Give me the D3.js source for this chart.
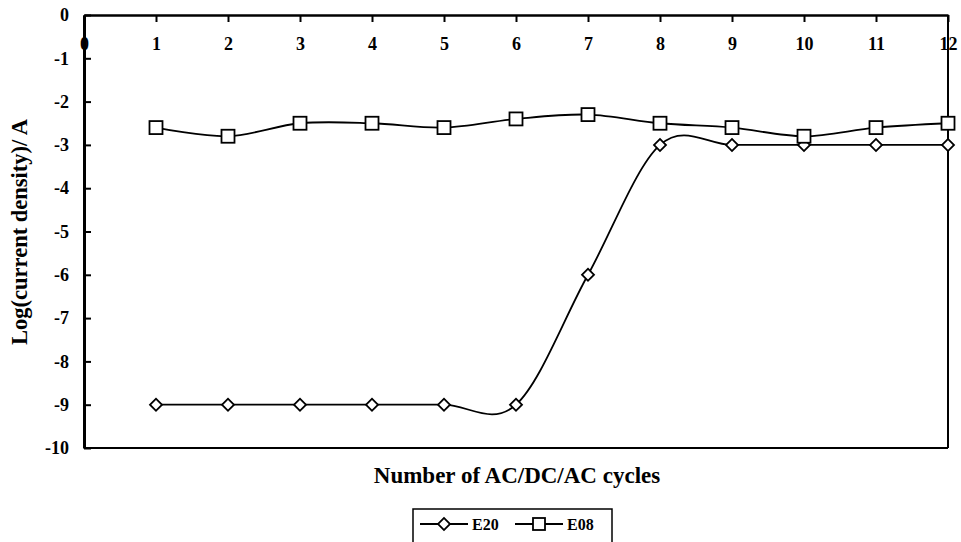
<!DOCTYPE html>
<html>
<head>
<meta charset="utf-8">
<script src="https://cdn.jsdelivr.net/npm/d3@7"></script>
<style>
  body { margin: 0; background: #fff; }
  text { font-family: "Liberation Serif", "Times New Roman", serif; font-weight: bold; }
</style>
</head>
<body>
<div class="chart"></div>
<script>
// data
const cycles = [1, 2, 3, 4, 5, 6, 7, 8, 9, 10, 11, 12]
const e20 = [-9, -9, -9, -9, -9, -9, -6, -3, -3, -3, -3, -3]
const e08 = [-2.6, -2.8, -2.5, -2.5, -2.6, -2.4, -2.3, -2.5, -2.6, -2.8, -2.6, -2.5]
const xTicks = [0, 1, 2, 3, 4, 5, 6, 7, 8, 9, 10, 11, 12]
const yTicks = [0, -1, -2, -3, -4, -5, -6, -7, -8, -9, -10]

const w = 961
const h = 542

const svg = d3.select(".chart")
  .append("svg")
    .attr("width", w)
    .attr("height", h)

const x = d3.scaleLinear().domain([0, 12]).range([84, 948])
const y = d3.scaleLinear().domain([-10, 0]).range([448, 15])

// plot frame: bottom and right
svg.append("line")
  .attr("x1", x(0)).attr("x2", x(12))
  .attr("y1", y(-10)).attr("y2", y(-10))
  .attr("stroke", "black").attr("stroke-width", 2)
svg.append("line")
  .attr("x1", x(12)).attr("x2", x(12))
  .attr("y1", y(0)).attr("y2", y(-10))
  .attr("stroke", "black").attr("stroke-width", 2)

// x axis sits at y = 0 (top), ticks pointing down, labels below
const xAxis = svg.append("g")
  .attr("transform", `translate(0,${y(0)})`)
  .call(d3.axisBottom(x).tickValues(xTicks).tickSize(7).tickSizeOuter(0).tickFormat(d => String(d)))
xAxis.select(".domain").attr("stroke-width", 2.5)
xAxis.selectAll(".tick line").attr("stroke-width", 2)
xAxis.selectAll(".tick text")
  .attr("y", 22)
  .attr("font-size", 18)
  .attr("font-family", "Liberation Serif")
  .attr("font-weight", "bold")
  .attr("fill", "black")

// y axis, ticks pointing inward
const yAxis = svg.append("g")
  .attr("transform", `translate(${x(0)},0)`)
  .call(d3.axisRight(y).tickValues(yTicks).tickSize(7).tickSizeOuter(0).tickFormat(d => String(d)))
yAxis.select(".domain").attr("stroke-width", 3)
yAxis.selectAll(".tick line").attr("stroke-width", 2)
yAxis.selectAll(".tick text")
  .attr("x", -15)
  .attr("text-anchor", "end")
  .attr("font-size", 18)
  .attr("font-family", "Liberation Serif")
  .attr("font-weight", "bold")
  .attr("fill", "black")

// smoothed lines like the spreadsheet
const line = d3.line()
  .x((d, i) => x(cycles[i]))
  .y(d => y(d))
  .curve(d3.curveCatmullRom.alpha(0))

svg.append("path").datum(e20)
  .attr("d", line).attr("fill", "none")
  .attr("stroke", "black").attr("stroke-width", 1.8)
svg.append("path").datum(e08)
  .attr("d", line).attr("fill", "none")
  .attr("stroke", "black").attr("stroke-width", 1.8)

const diamond = d3.symbol().type(d3.symbolSquare).size(72)

svg.append("g").selectAll("path")
  .data(e20)
  .join("path")
    .attr("d", diamond)
    .attr("transform", (d, i) => `translate(${x(cycles[i])},${y(d)}) rotate(45)`)
    .attr("fill", "white").attr("stroke", "black").attr("stroke-width", 1.8)

svg.append("g").selectAll("rect")
  .data(e08)
  .join("rect")
    .attr("x", (d, i) => x(cycles[i]) - 6.5)
    .attr("y", d => y(d) - 6.5)
    .attr("width", 13).attr("height", 13)
    .attr("fill", "white").attr("stroke", "black").attr("stroke-width", 1.8)

// axis titles
svg.append("text")
  .attr("x", 517).attr("y", 483)
  .attr("text-anchor", "middle")
  .attr("font-size", 23)
  .text("Number of AC/DC/AC cycles")

svg.append("text")
  .attr("transform", "translate(27,232) rotate(-90)")
  .attr("text-anchor", "middle")
  .attr("font-size", 22.5)
  .text("Log(current density)/ A")

// legend
const legend = svg.append("g")
svg.append("rect")
  .attr("x", 413).attr("y", 509).attr("width", 199).attr("height", 40)
  .attr("fill", "none").attr("stroke", "black").attr("stroke-width", 1.5)

const legendItems = [{name: "E20", x0: 420}, {name: "E08", x0: 515}]
legendItems.forEach((it, k) => {
  legend.append("line")
    .attr("x1", it.x0).attr("x2", it.x0 + 48)
    .attr("y1", 524).attr("y2", 524)
    .attr("stroke", "black").attr("stroke-width", 1.8)
  if (k == 0) {
    legend.append("path")
      .attr("d", diamond)
      .attr("transform", `translate(${it.x0 + 24},524) rotate(45)`)
      .attr("fill", "white").attr("stroke", "black").attr("stroke-width", 1.8)
  } else {
    legend.append("rect")
      .attr("x", it.x0 + 24 - 6).attr("y", 518)
      .attr("width", 12).attr("height", 12)
      .attr("fill", "white").attr("stroke", "black").attr("stroke-width", 1.8)
  }
  legend.append("text")
    .attr("x", it.x0 + 52).attr("y", 530)
    .attr("font-size", 16)
    .text(it.name)
})
</script>
</body>
</html>
